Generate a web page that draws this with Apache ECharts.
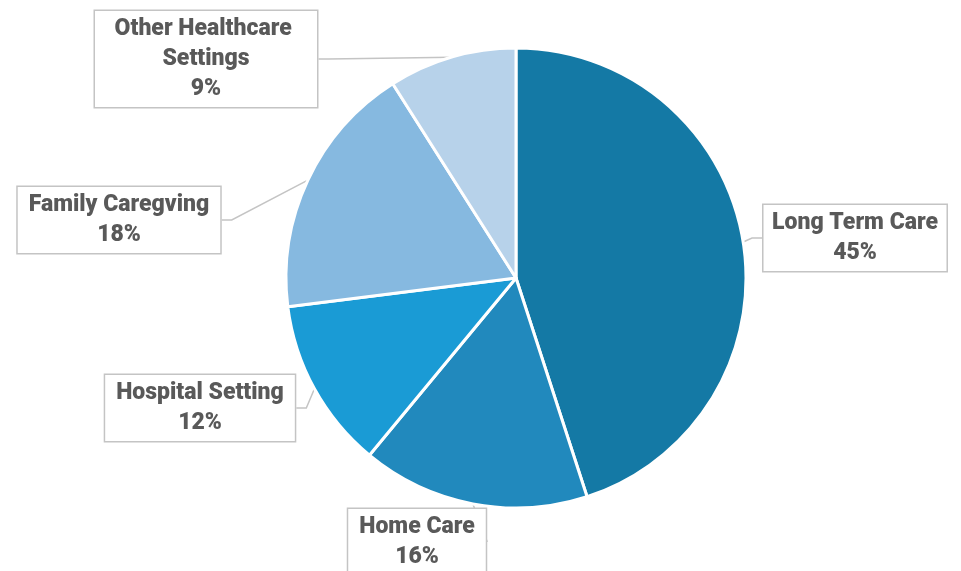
<!DOCTYPE html>
<html><head><meta charset="utf-8">
<script src="https://cdn.jsdelivr.net/npm/echarts@6/dist/echarts.min.js"></script>
<style>html,body{margin:0;padding:0;background:#fff}#c{width:961px;height:571px}</style>
</head><body><div id="c"></div>
<script>
const categories = ['Long Term Care', 'Home Care', 'Hospital Setting', 'Family Caregving', 'Other Healthcare Settings'];
const values = [45, 16, 12, 18, 9];
const colors = ['#1479a5', '#2189bd', '#1a9bd5', '#86b9e0', '#b7d2ea'];
const labelPos = [[855, 238], [417, 542], [200, 408], [119, 220], [206, 59]];

const chart = echarts.init(document.getElementById('c'), null, {renderer: 'canvas'});
chart.setOption({
  animation: false,
  series: [{
    type: 'pie',
    center: [516, 278],
    radius: 230,
    startAngle: 90,
    clockwise: true,
    data: categories.map((n, i) => ({
      name: n, value: values[i],
      itemStyle: {color: colors[i]},
      label: i === 4 ? {width: 200, overflow: 'break'} : {}
    })),
    itemStyle: {borderColor: '#fff', borderWidth: 3},
    label: {
      show: true,
      position: 'outside',
      overflow: 'none',
      edgeDistance: 0,
      formatter: '{b}\n{c}%',
      fontFamily: 'Roboto',
      fontWeight: 900,
      fontSize: 23,
      lineHeight: 30,
      color: '#595959',
      align: 'center',
      backgroundColor: '#fff',
      borderColor: '#c4c4c4',
      borderWidth: 1.5,
      padding: [3, 11, 3, 11]
    },
    labelLine: {show: true, length: 10, length2: 10, lineStyle: {color: '#c4c4c4', width: 1.5}},
    labelLayout: function (p) {
      const pos = labelPos[p.dataIndex];
      return {x: pos[0], y: pos[1], align: 'center', verticalAlign: 'middle'};
    },
    emphasis: {disabled: true}
  }]
});
</script></body></html>
